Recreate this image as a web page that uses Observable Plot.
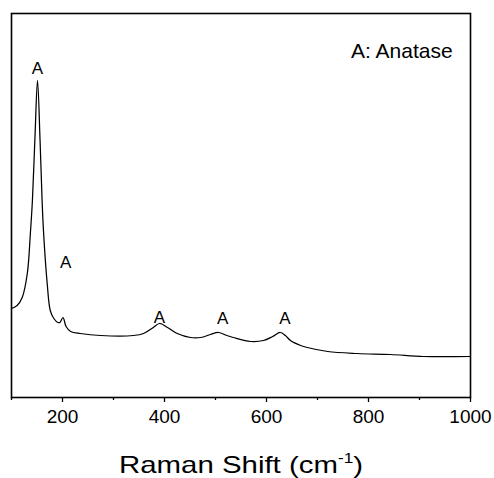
<!DOCTYPE html>
<html>
<head>
<meta charset="utf-8">
<script src="https://cdn.jsdelivr.net/npm/d3@7"></script>
<script src="https://cdn.jsdelivr.net/npm/@observablehq/plot@0.6"></script>
<style>
  html, body { margin: 0; padding: 0; background: #fff; }
  #chart svg { display: block; }
</style>
</head>
<body>
<div id="chart"></div>
<script>
// Raman spectrum
const ramanShift = [100, 111, 121, 131, 137, 141, 146, 151, 156, 160, 163, 170, 176, 183, 191, 195, 201, 207, 216, 235, 275, 339, 359, 378, 390, 406, 425, 451, 471, 490, 506, 522, 535, 569, 594, 612, 627, 637, 647, 667, 680, 720, 778, 843, 908, 1000];
const intensity  = [89, 92, 100, 124, 164, 197, 260, 317, 257, 197, 164, 114, 87, 79, 75, 75, 80, 71, 66, 64, 62, 62, 64, 70, 74, 70, 64, 60, 60, 63, 65, 62, 60, 56, 57, 61, 65, 62, 57, 52, 50, 46, 44, 43, 41, 41];

// Peak labels
const peakX = [151, 206, 390, 514, 636];
const peakY = [324, 130, 75, 74, 74];
const peakText = ["A", "A", "A", "A", "A"];

// Legend text
const legendText = ["A: Anatase"];
const legendX = [965];
const legendY = [340];

// Axis ticks
const majorTicks = [200, 400, 600, 800, 1000];
const minorTicks = [100, 300, 500, 700, 900];
const xLabel = "Raman Shift (cm";

const spectrum = ramanShift.map((x, i) => ({x, y: intensity[i]}));
const peaks = peakX.map((x, i) => ({x, y: peakY[i], t: peakText[i]}));
const legend = legendText.map((t, i) => ({x: legendX[i], y: legendY[i], t}));

const font = "'Liberation Sans', Arial, Helvetica, sans-serif";

const chart = Plot.plot({
  width: 494,
  height: 478,
  marginLeft: 11,
  marginRight: 24,
  marginTop: 13,
  marginBottom: 81,
  style: {fontFamily: font, background: "#fff", color: "#000"},
  x: {domain: [100, 1000]},
  y: {domain: [0, 384], axis: null},
  marks: [
    Plot.axisX(majorTicks, {tickSize: 5, tickPadding: 7, fontSize: 19, strokeWidth: 1.3, label: null, tickFormat: d => String(d)}),
    Plot.axisX(minorTicks, {tickSize: 3, strokeWidth: 1.3, label: null, tickFormat: () => ""}),
    Plot.line(spectrum, {x: "x", y: "y", stroke: "#000", strokeWidth: 1.25, curve: "catmull-rom"}),
    Plot.text(peaks, {x: "x", y: "y", text: "t", fontSize: 17, lineAnchor: "bottom", textAnchor: "middle", fill: "#000"}),
    Plot.text(legend, {x: "x", y: "y", text: "t", fontSize: 21, lineAnchor: "bottom", textAnchor: "end", fill: "#000"}),
    Plot.text([xLabel], {frameAnchor: "bottom", dy: 75, text: d => d, fontSize: 24, lineAnchor: "bottom", textAnchor: "middle", fill: "#000"}),
    Plot.frame({stroke: "#000", strokeWidth: 1.6})
  ]
});

document.getElementById("chart").appendChild(chart);

// add the superscript to the axis title
d3.select(chart).selectAll("text").each(function() {
  const t = d3.select(this);
  if (t.text() === xLabel) {
    t.text(xLabel);
    t.append("tspan").attr("font-size", 14).attr("dy", -10).text("-1");
    t.append("tspan").attr("dy", 10).text(")");
    t.attr("textLength", 244).attr("lengthAdjust", "spacingAndGlyphs");
  }
});
</script>
</body>
</html>
